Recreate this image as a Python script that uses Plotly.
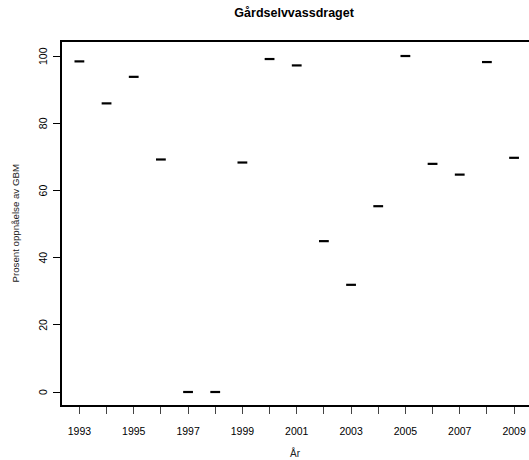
import plotly.graph_objects as go

years = list(range(1993, 2010))
values = [98.4, 85.9, 93.8, 69.2, 0, 0, 68.3, 99.1, 97.2, 44.9, 31.9, 55.3, 100.0, 67.9, 64.7, 98.2, 69.7]
x_tick_labels = [str(y) if (y - 1993) % 2 == 0 else "" for y in years]
y_ticks = [0, 20, 40, 60, 80, 100]

font_family = "Liberation Sans, Arial, sans-serif"

fig = go.Figure()
fig.add_trace(go.Scatter(
    x=years, y=values, mode="markers",
    marker=dict(symbol="line-ew", size=7, line=dict(width=2.2, color="black"), color="black"),
    showlegend=False, hoverinfo="x+y",
))

annotations = [
    dict(text="År", xref="paper", yref="paper", x=0.5, y=-0.132, xanchor="center", yanchor="middle",
         showarrow=False, font=dict(size=10, color="#222")),
    dict(text="Prosent oppnåelse av GBM", xref="paper", yref="paper", x=-0.1006, y=0.5,
         xanchor="center", yanchor="middle", textangle=-90, showarrow=False,
         font=dict(size=9.7, color="#222")),
]
# rotated y tick labels (R style, reading bottom-to-top)
for v in y_ticks:
    annotations.append(dict(text=str(v), xref="paper", yref="y", x=-0.0407, y=v,
                            xanchor="center", yanchor="middle", textangle=-90, showarrow=False,
                            font=dict(size=10.5, color="black")))

fig.update_layout(
    template="none",
    width=529, height=460,
    margin=dict(l=62, r=0, t=42, b=55, autoexpand=False),
    paper_bgcolor="white", plot_bgcolor="white",
    font=dict(family=font_family, color="black"),
    title=dict(text="<b>Gårdselvvassdraget</b>", x=0.556, xanchor="center", y=0.972, yanchor="middle",
               font=dict(size=12.5, family=font_family, color="black")),
    annotations=annotations,
)
fig.update_xaxes(
    automargin=False,
    range=[1992.36, 2009.55], tickmode="array", tickvals=years, ticktext=x_tick_labels,
    showgrid=False, zeroline=False, showline=True, linecolor="black", linewidth=1.6, mirror=True,
    ticks="outside", ticklen=7, tickwidth=1, tickcolor="#444",
    tickfont=dict(size=10.5, color="black"), ticklabelstandoff=9,
)
fig.update_yaxes(
    automargin=False,
    range=[-3.87, 104.17], tickmode="array", tickvals=y_ticks, showticklabels=False,
    showgrid=False, zeroline=False, showline=True, linecolor="black", linewidth=1.6, mirror=False,
    ticks="outside", ticklen=7, tickwidth=1.2, tickcolor="black",
)

fig.write_html("out.html", config={"displayModeBar": False},
               post_script="document.body.style.margin='0';document.body.style.overflow='hidden';")
